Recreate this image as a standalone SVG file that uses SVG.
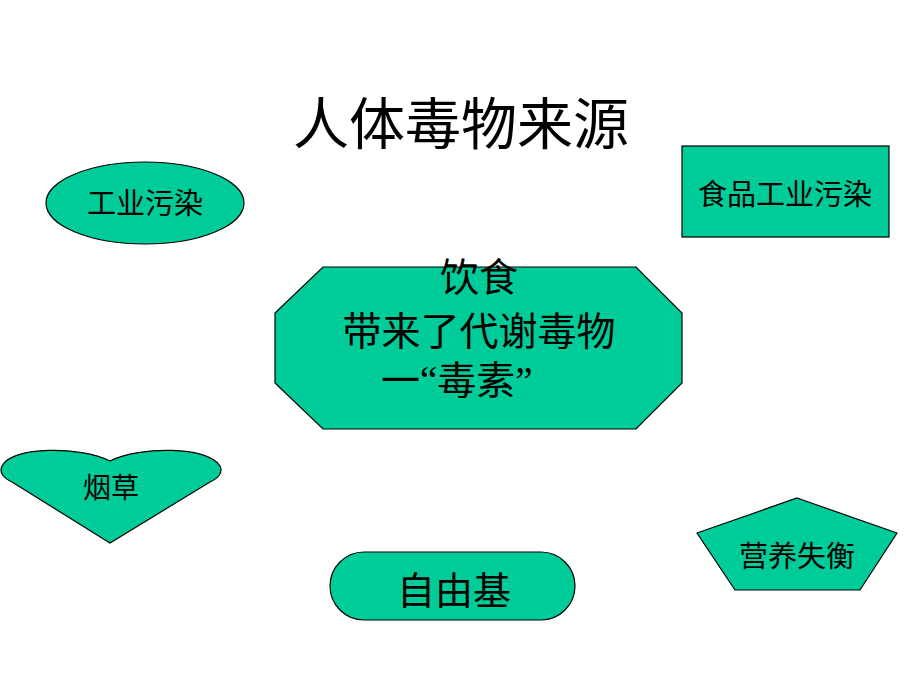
<svg xmlns="http://www.w3.org/2000/svg" width="920" height="690" viewBox="0 0 920 690">
<style>
.shape{fill:#00CC99;stroke:#000;stroke-width:1.2}
text{font-family:"Liberation Serif","Noto Sans CJK SC",serif;fill:#000;text-anchor:middle}
</style>
<rect width="920" height="690" fill="#fff"/>
<text id="title" x="461" y="144" font-size="56">人体毒物来源</text>
<g id="node-industry">
<ellipse class="shape" cx="145" cy="203" rx="99" ry="41"/>
<text x="145" y="214" font-size="29">工业污染</text>
</g>
<g id="node-food-industry">
<rect class="shape" x="682" y="146" width="207" height="91"/>
<text x="785" y="205" font-size="29">食品工业污染</text>
</g>
<g id="node-diet">
<polygon class="shape" points="323,267 636,267 682,313 682,383 636,429 323,429 275,383 275,313"/>
<text x="479" y="291" font-size="39">饮食</text>
<text x="479" y="345" font-size="39">带来了代谢毒物</text>
<text x="381" y="394" font-size="39" style="text-anchor:start">一“毒素”</text>
</g>
<g id="node-tobacco">
<path class="shape" d="M110,461 C80,446 12,446 2,466 C-1,472 3,478 12,482 L110,543 L210,482 C219,478 223,472 220,466 C208,446 140,446 110,461 Z"/>
<text x="111" y="498" font-size="28">烟草</text>
</g>
<g id="node-nutrition">
<polygon class="shape" points="797,498 897,533 860,590 735,590 697,533"/>
<text x="797" y="567" font-size="29">营养失衡</text>
</g>
<g id="node-radical">
<rect class="shape" x="330" y="552" width="245" height="68" rx="34" ry="34"/>
<text x="454" y="604" font-size="38">自由基</text>
</g>
<g id="connectors"></g>
</svg>
